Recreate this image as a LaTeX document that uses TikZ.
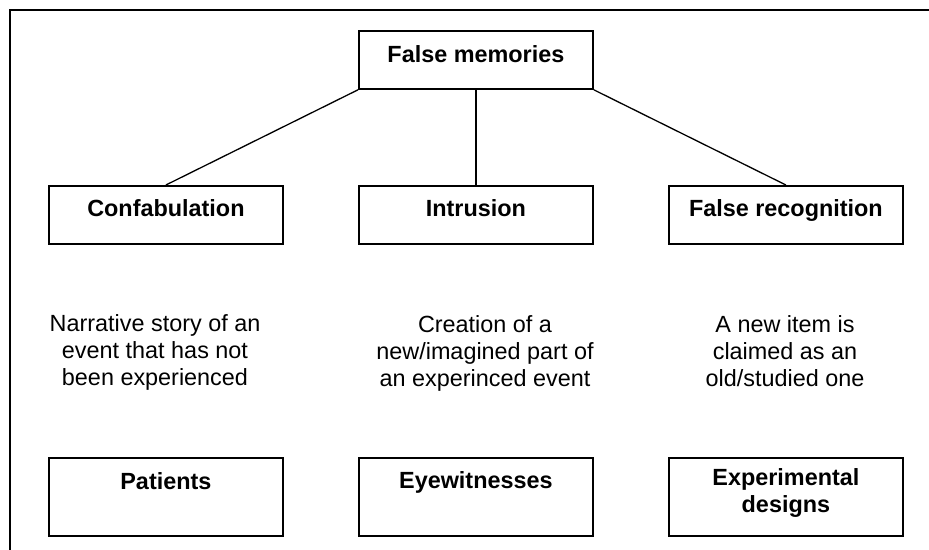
\documentclass[tikz,border=0pt]{standalone}
\usepackage{fontspec}
\setmainfont{Liberation Sans}
\begin{document}
\begin{tikzpicture}[x=1pt,y=-1pt,
  box/.style={draw,line width=1.8pt,minimum width=234pt,inner sep=0pt,anchor=north west,
    font=\fontsize{23.4}{27.5}\selectfont\bfseries,align=center},
  desc/.style={inner sep=0pt,align=center,anchor=north,text height=71.6pt,
    font=\fontsize{23.4}{27.3}\selectfont},
  link/.style={line width=1.3pt}]
\useasboundingbox (0,0) rectangle (929,549);
\draw[line width=2pt] (10,560) -- (10,10) -- (940,10);
% top
\node[box,text height=32pt,text depth=26pt] (fm) at (358,30) {False memories};
% level 2
\node[box,text height=31pt,text depth=27pt] (conf) at (48,185) {Confabulation};
\node[box,text height=31pt,text depth=27pt] (intr) at (358,185) {Intrusion};
\node[box,text height=31pt,text depth=27pt] (frec) at (668,185) {False recognition};
% descriptions
\node[desc] (d1) at (155,314) {Narrative story of an\\event that has not\\been experienced};
\node[desc] (d2) at (485,315) {Creation of a\\new/imagined part of\\an experinced event};
\node[desc] (d3) at (785,315) {A new item is\\claimed as an\\old/studied one};
% level 3
\node[box,text height=32pt,text depth=46pt] (pat) at (48,457) {Patients};
\node[box,text height=31pt,text depth=47pt] (eye) at (358,457) {Eyewitnesses};
\node[box,text height=55pt,text depth=23pt] (exp) at (668,457) {Experimental\\designs};
% connectors
\draw[link] (fm.south west) -- (conf.north);
\draw[link] (fm.south) -- (intr.north);
\draw[link] (fm.south east) -- (frec.north);
\end{tikzpicture}
\end{document}
